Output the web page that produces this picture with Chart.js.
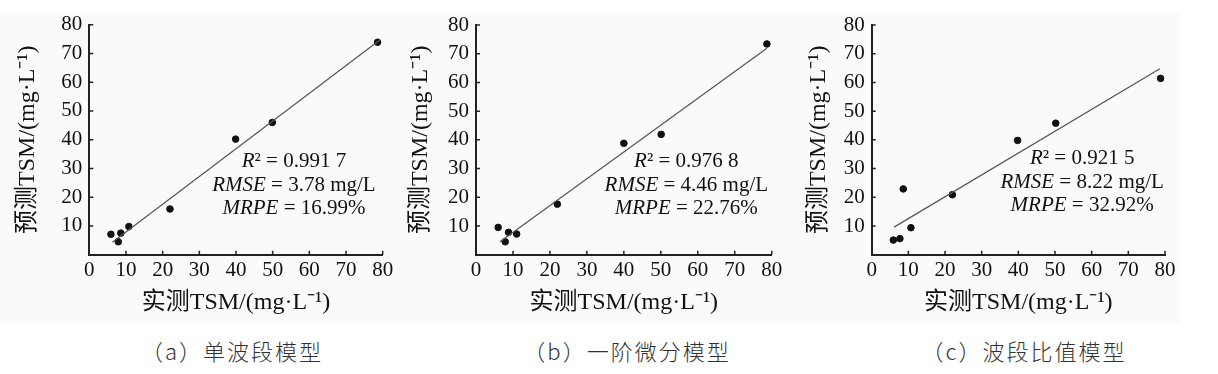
<!DOCTYPE html>
<html lang="zh">
<head>
    <meta charset="UTF-8" />
    <title>TSM 反演模型精度对比</title>
    <script src="https://cdn.jsdelivr.net/npm/chart.js"></script>
    <style>
        body { margin: 0; width: 1218px; height: 374px; background: #fff; position: relative; overflow: hidden; }
        .bg { position: absolute; left: 0; top: 13px; width: 1180px; height: 310px; background: #fafaf8; }
        .panel { position: absolute; top: 0; }
        .caption {
            position: absolute; top: 338px; line-height: 24px;
            font-family: "Noto Sans CJK SC"; font-size: 22px; font-weight: 300;
            color: #333; letter-spacing: 2px; white-space: nowrap;
            transform: translateX(-50%);
        }
    </style>
</head>
<body>
    <div class="bg"></div>
    <canvas id="chartA" class="panel" width="400" height="325" style="left:0"></canvas>
    <canvas id="chartB" class="panel" width="400" height="325" style="left:400px"></canvas>
    <canvas id="chartC" class="panel" width="418" height="325" style="left:800px"></canvas>
    <div class="caption" style="left:232px">（a）单波段模型</div>
    <div class="caption" style="left:627px">（b）一阶微分模型</div>
    <div class="caption" style="left:1024px">（c）波段比值模型</div>

    <script>
        // axis ticks (both axes 0-80 step 10)
        const axisTicks = [0, 10, 20, 30, 40, 50, 60, 70, 80];

        // (a) single band model
        const measuredA = [5.9, 7.9, 8.6, 10.8, 22.0, 39.9, 49.9, 78.6];
        const predictedA = [7.1, 4.5, 7.5, 9.8, 15.9, 40.2, 46.0, 73.9];
        const fitXA = [6.3, 79.3];
        const fitYA = [4.3, 74.8];
        const statsA = [
            [["R", true], ["²", false], [" = 0.991 7", false]],
            [["RMSE", true], [" = 3.78 mg/L", false]],
            [["MRPE", true], [" = 16.99%", false]]
        ];

        // (b) first derivative model
        const measuredB = [6.0, 7.9, 8.8, 11.0, 22.0, 40.0, 50.1, 78.7];
        const predictedB = [9.5, 4.5, 7.8, 7.2, 17.6, 38.8, 41.9, 73.4];
        const fitXB = [6.5, 78.7];
        const fitYB = [4.5, 71.9];
        const statsB = [
            [["R", true], ["²", false], [" = 0.976 8", false]],
            [["RMSE", true], [" = 4.46 mg/L", false]],
            [["MRPE", true], [" = 22.76%", false]]
        ];

        // (c) band ratio model
        const measuredC = [5.9, 7.7, 8.6, 10.7, 22.0, 39.8, 50.2, 78.8];
        const predictedC = [5.1, 5.6, 22.9, 9.4, 20.9, 39.8, 45.8, 61.4];
        const fitXC = [6.1, 78.6];
        const fitYC = [9.6, 64.8];
        const statsC = [
            [["R", true], ["²", false], [" = 0.921 5", false]],
            [["RMSE", true], [" = 8.22 mg/L", false]],
            [["MRPE", true], [" = 32.92%", false]]
        ];

        const serif = "'Liberation Serif', 'Noto Sans CJK SC'";
        const ink = "#111";

        // small inward tick marks on both axes
        const innerTicks = {
            id: "innerTicks",
            afterDraw(chart) {
                const { ctx, scales: { x, y } } = chart;
                ctx.save();
                ctx.strokeStyle = "#222";
                ctx.lineWidth = 1.5;
                ctx.beginPath();
                axisTicks.forEach(v => {
                    if (v === 0) return;
                    const px = x.getPixelForValue(v);
                    ctx.moveTo(px, x.top);
                    ctx.lineTo(px, x.top - 4);
                    const py = y.getPixelForValue(v);
                    ctx.moveTo(y.right, py);
                    ctx.lineTo(y.right + 4, py);
                });
                ctx.stroke();
                ctx.restore();
            }
        };

        // R2 / RMSE / MRPE text, italic variable names
        const statsText = {
            id: "statsText",
            afterDatasetsDraw(chart, args, opts) {
                const { ctx, scales: { x, y } } = chart;
                const cx = x.getPixelForValue(opts.x);
                const cy = y.getPixelForValue(opts.y);
                ctx.save();
                ctx.fillStyle = ink;
                ctx.textAlign = "left";
                ctx.textBaseline = "middle";
                opts.lines.forEach((parts, i) => {
                    const fonts = parts.map(p => (p[1] ? "italic " : "") + "21px 'Liberation Serif'");
                    let w = 0;
                    parts.forEach((p, j) => { ctx.font = fonts[j]; w += ctx.measureText(p[0]).width; });
                    let px = cx - w / 2;
                    const py = cy + i * opts.gap;
                    parts.forEach((p, j) => {
                        ctx.font = fonts[j];
                        ctx.fillText(p[0], px, py);
                        px += ctx.measureText(p[0]).width;
                    });
                });
                ctx.restore();
            }
        };

        function makePanel(id, measured, predicted, fitX, fitY, stats, g) {
            const points = measured.map((v, i) => ({ x: v, y: predicted[i] }));
            const fit = fitX.map((v, i) => ({ x: v, y: fitY[i] }));
            new Chart(document.getElementById(id), {
                type: "scatter",
                data: {
                    datasets: [
                        {
                            data: fit,
                            showLine: true,
                            borderColor: "#555",
                            borderWidth: 1.2,
                            pointRadius: 0
                        },
                        {
                            data: points,
                            backgroundColor: "#111",
                            borderColor: "#111",
                            pointRadius: 3.3
                        }
                    ]
                },
                options: {
                    responsive: false,
                    animation: false,
                    events: [],
                    layout: { padding: { left: g.padLeft, right: g.padRight, top: g.padTop, bottom: 7.6 } },
                    plugins: {
                        legend: { display: false },
                        tooltip: { enabled: false },
                        statsText: { x: g.textX, y: g.textY, gap: 23.5, lines: stats }
                    },
                    scales: {
                        x: {
                            type: "linear",
                            min: 0,
                            max: 80,
                            afterBuildTicks: s => { s.ticks = axisTicks.map(v => ({ value: v })); },
                            afterFit: s => { s.height = 62.7; },
                            grid: { display: false, drawTicks: false },
                            border: { color: "#222", width: 2 },
                            ticks: { color: ink, padding: 3, font: { family: serif, size: 21 } },
                            title: {
                                display: true,
                                text: "实测TSM/(mg·L⁻¹)",
                                color: ink,
                                padding: 0,
                                font: { family: serif, size: 24 }
                            }
                        },
                        y: {
                            type: "linear",
                            min: 0,
                            max: 80,
                            afterBuildTicks: s => { s.ticks = axisTicks.map(v => ({ value: v })); },
                            afterFit: s => { s.width = g.yWidth; },
                            grid: { display: false, drawTicks: false },
                            border: { color: "#222", width: 2 },
                            ticks: {
                                color: ink,
                                padding: 7,
                                font: { family: serif, size: 21 },
                                callback: v => (v === 0 ? "" : v)
                            },
                            title: {
                                display: true,
                                text: "预测TSM/(mg·L⁻¹)",
                                color: ink,
                                padding: 0,
                                font: { family: serif, size: 24 }
                            }
                        }
                    }
                },
                plugins: [innerTicks, statsText]
            });
        }

        makePanel("chartA", measuredA, predictedA, fitXA, fitYA, statsA,
            { padLeft: 13, yWidth: 76.3, padRight: 17.3, padTop: 24.7, textX: 55.8, textY: 32.3 });
        makePanel("chartB", measuredB, predictedB, fitXB, fitYB, statsB,
            { padLeft: 6.6, yWidth: 69.4, padRight: 28.3, padTop: 25, textX: 56.9, textY: 32.3 });
        makePanel("chartC", measuredC, predictedC, fitXC, fitYC, statsC,
            { padLeft: 4.6, yWidth: 67.1, padRight: 53, padTop: 25, textX: 57.4, textY: 33.5 });
    </script>
</body>
</html>
